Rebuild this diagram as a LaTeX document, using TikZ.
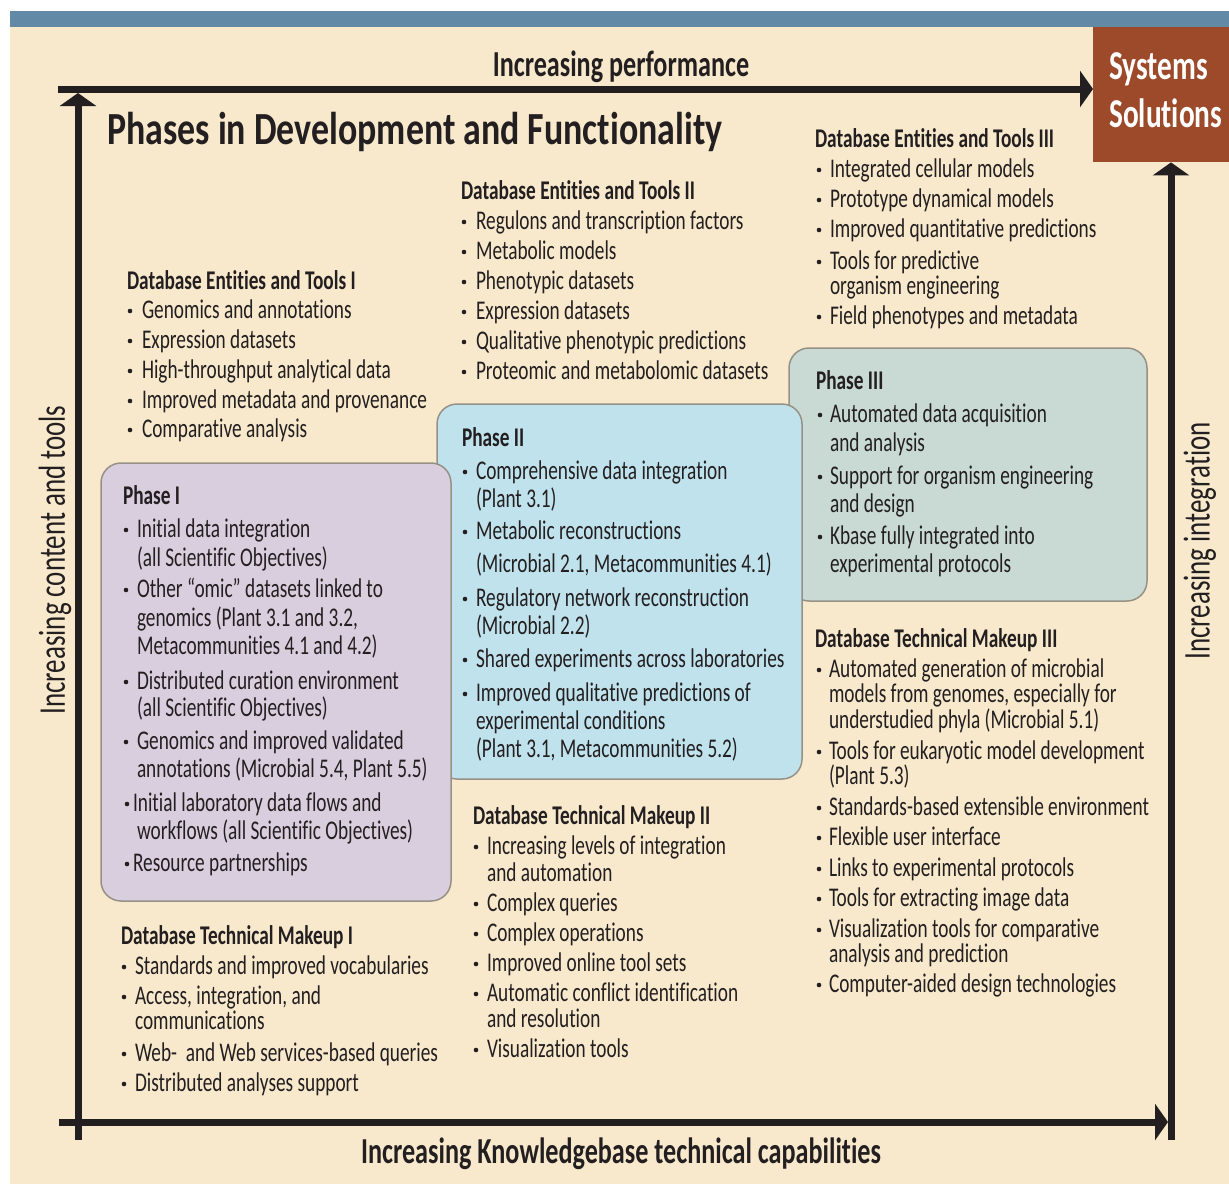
\documentclass[tikz,border=0pt]{standalone}
\usepackage{fontspec}
\setmainfont[FakeStretch=0.715,Ligatures=NoCommon]{Carlito}
\newfontfamily\titlefont[FakeStretch=0.78,Ligatures=NoCommon]{Carlito}
\usetikzlibrary{arrows.meta}
\definecolor{bandblue}{RGB}{98,138,166}
\definecolor{beige}{RGB}{248,233,204}
\definecolor{rust}{RGB}{156,74,42}
\definecolor{lav}{RGB}{217,206,222}
\definecolor{lblue}{RGB}{192,226,236}
\definecolor{sage}{RGB}{200,218,211}
\definecolor{bord}{RGB}{150,145,135}
\definecolor{ink}{RGB}{35,31,32}
\tikzset{
  txt/.style={anchor=base west, inner sep=0pt, outer sep=0pt, text=ink, font=\fontsize{27}{32}\selectfont},
  hd/.style={txt, font=\fontsize{27}{32}\selectfont\bfseries},
  dot/.style={circle, fill=ink, inner sep=0pt, minimum size=4.6pt},
  phasebox/.style={draw=bord, line width=1.5pt, rounded corners=20pt},
  axis/.style={line width=7pt, draw=ink},
  tip/.style={-{Triangle[length=13pt,width=36pt]}},
  lbl/.style={inner sep=0pt, text=ink, font=\fontsize{36.6}{42}\selectfont\bfseries},
  vlbl/.style={inner sep=0pt, text=ink, font=\fontsize{37.7}{42}\selectfont, rotate=90},
  syst/.style={anchor=base west, inner sep=0pt, text=white, font=\fontsize{41}{46}\selectfont\bfseries},
}
% #1 name prefix, #2 bullet centre x, #3 text x, #4 items y/text/flag
\newcommand\mylist[4]{%
  \foreach \yy/\itm/\bb [count=\i] in {#4} {%
    \node[txt] (#1t\i) at (#3,\yy) {\itm};
    \ifnum\bb=1 \node[dot] (#1b\i) at (#2,{\yy-7}) {}; \fi
  }%
}
\begin{document}
\begin{tikzpicture}[x=1pt,y=-1pt]
\useasboundingbox (0,0) rectangle (1229,1184);
\fill[white] (0,0) rectangle (1229,1184);
\fill[beige] (10,27) rectangle (1229,1184);
\fill[bandblue] (10,11) rectangle (1229,27);

% Systems Solutions box
\node[fill=rust, minimum width=136pt, minimum height=135pt, inner sep=0pt, anchor=north west] (sys) at (1093,27) {};
\node[syst] (sys1) at (1109,79) {Systems};
\node[syst] (sys2) at (1109,127) {Solutions};

% phase boxes
\draw[phasebox, fill=sage] (789,348) rectangle (1147,601);
\draw[phasebox, fill=lblue] (437,404) rectangle (802,779);
\draw[phasebox, fill=lav] (101,463) rectangle (451,901);

% axes
\coordinate (tl) at (58,89);
\coordinate (lb) at (78,1140);
\coordinate (lt) at (78,93);
\coordinate (bl) at (59,1122);
\coordinate (br) at (1168,1122);
\coordinate (rb) at (1171,1140);
\draw[axis,tip] (tl) -- (tl -| sys.west);
\draw[axis,tip] (lb) -- (lt);
\draw[axis,tip] (bl) -- (br);
\draw[axis,tip] (rb) -- (rb |- sys.south);

% axis labels
\node[lbl, anchor=base] (perf) at (621,76) {Increasing performance};
\node[lbl, anchor=base] (kb) at (621,1163) {Increasing Knowledgebase technical capabilities};
\node[vlbl] (cont) at (55,560) {Increasing content and tools};
\node[vlbl] (integ) at (1200,541) {Increasing integration};

% title
\node[anchor=base west, inner sep=0pt, text=ink, font=\titlefont\fontsize{46}{52}\selectfont\bfseries] (title) at (107,144) {Phases in Development and Functionality};

% Database Entities and Tools I
\node[hd] (e1h) at (127,289) {Database Entities and Tools I};
\mylist{e1}{130}{142}{318/Genomics and annotations/1, 348/Expression datasets/1, 378/High-throughput analytical data/1, 408/Improved metadata and provenance/1, 437/Comparative analysis/1}

% Database Entities and Tools II
\node[hd] (e2h) at (461,199) {Database Entities and Tools II};
\mylist{e2}{464}{476}{229/Regulons and transcription factors/1, 259/Metabolic models/1, 289/Phenotypic datasets/1, 319/Expression datasets/1, 349/Qualitative phenotypic predictions/1, 379/Proteomic and metabolomic datasets/1}

% Database Entities and Tools III
\node[hd] (e3h) at (815,147) {Database Entities and Tools III};
\mylist{e3}{819}{830}{177/Integrated cellular models/1, 207/Prototype dynamical models/1, 237/Improved quantitative predictions/1, 269/Tools for predictive/1, 294/organism engineering/0, 324/Field phenotypes and metadata/1}

% Phase I
\node[hd] (p1h) at (123,504) {Phase I};
\mylist{p1a}{126}{137}{537/Initial data integration/1, 566/(all Scientific Objectives)/0, 597/Other “omic” datasets linked to/1, 626/{genomics (Plant 3.1 and 3.2,}/0, 654/Metacommunities 4.1 and 4.2)/0, 689/Distributed curation environment/1, 716/(all Scientific Objectives)/0, 749/Genomics and improved validated/1, 777/{annotations (Microbial 5.4, Plant 5.5)}/0}
\mylist{p1b}{127}{133}{811/Initial laboratory data flows and/1, 871/Resource partnerships/1}
\node[txt] (p1c) at (137,839) {workflows (all Scientific Objectives)};

% Phase II
\node[hd] (p2h) at (462,446) {Phase II};
\mylist{p2}{465}{476}{479/Comprehensive data integration/1, 507/(Plant 3.1)/0, 539/Metabolic reconstructions/1, 572/{(Microbial 2.1, Metacommunities 4.1)}/0, 606/Regulatory network reconstruction/1, 634/(Microbial 2.2)/0, 667/Shared experiments across laboratories/1, 701/Improved qualitative predictions of/1, 729/experimental conditions/0, 757/{(Plant 3.1, Metacommunities 5.2)}/0}

% Phase III
\node[hd] (p3h) at (816,389) {Phase III};
\mylist{p3}{820}{830}{422/Automated data acquisition/1, 451/and analysis/0, 484/Support for organism engineering/1, 512/and design/0, 544/Kbase fully integrated into/1, 572/experimental protocols/0}

% Database Technical Makeup I
\node[hd] (t1h) at (121,944) {Database Technical Makeup I};
\mylist{t1}{124}{135}{974/Standards and improved vocabularies/1, 1004/{Access, integration, and}/1, 1029/communications/0, 1061/Web-~ and Web services-based queries/1, 1091/Distributed analyses support/1}

% Database Technical Makeup II
\node[hd] (t2h) at (473,824) {Database Technical Makeup II};
\mylist{t2}{476}{487}{854/Increasing levels of integration/1, 881/and automation/0, 911/Complex queries/1, 941/Complex operations/1, 971/Improved online tool sets/1, 1001/Automatic conflict identification/1, 1027/and resolution/0, 1057/Visualization tools/1}

% Database Technical Makeup III
\node[hd] (t3h) at (815,647) {Database Technical Makeup III};
\mylist{t3}{819}{829}{677/Automated generation of microbial/1, 702/{models from genomes, especially for}/0, 728/understudied phyla (Microbial 5.1)/0, 759/Tools for eukaryotic model development/1, 784/(Plant 5.3)/0, 815/Standards-based extensible environment/1, 845/Flexible user interface/1, 876/Links to experimental protocols/1, 906/Tools for extracting image data/1, 937/Visualization tools for comparative/1, 962/analysis and prediction/0, 992/Computer-aided design technologies/1}
\end{tikzpicture}
\end{document}
